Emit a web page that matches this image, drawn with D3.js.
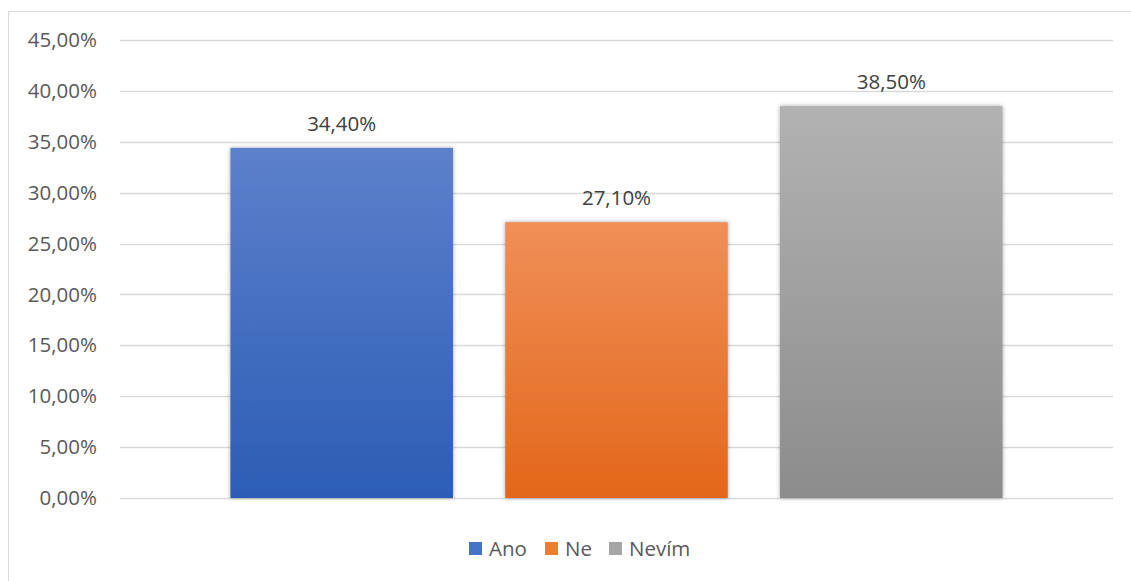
<!DOCTYPE html>
<html><head><meta charset="utf-8">
<script src="https://cdn.jsdelivr.net/npm/d3@7"></script>
<style>html,body{margin:0;padding:0;background:#fff;} svg{display:block;font-family:"Open Sans","Noto Sans",sans-serif;}</style>
</head><body>
<svg id="c" width="1131" height="581"></svg>
<script>
const categories = ["Ano", "Ne", "Nevím"];
const values = [0.344, 0.271, 0.385];
const yTicks = [0, 0.05, 0.10, 0.15, 0.20, 0.25, 0.30, 0.35, 0.40, 0.45];
const colorsTop = ["#5d80cb", "#f08f58", "#b2b2b2"];
const colorsBottom = ["#2c5db5", "#e3671a", "#8c8c8c"];
const legendColors = ["#4472c4", "#ed7d31", "#a5a5a5"];

const svg = d3.select("#c");
const fmt = v => (v*100).toFixed(2).replace(".", ",") + "%";

// frame
svg.append("rect").attr("x", 8.5).attr("y", 11.5).attr("width", 1140).attr("height", 600)
  .attr("fill", "none").attr("stroke", "#d9d9d9").attr("stroke-width", 1);

const plotL = 120, plotR = 1113, plotT = 40, plotB = 498;
const y = d3.scaleLinear().domain([0, 0.45]).range([plotB, plotT]);
const xOuter = d3.scaleBand().domain(["g"]).range([plotL, plotR]).paddingOuter(0.143);
const x = d3.scaleBand().domain(categories)
  .range([xOuter("g"), xOuter("g") + xOuter.bandwidth()]).paddingInner(0.19).paddingOuter(0);

const defs = svg.append("defs");
categories.forEach((c, i) => {
  const g = defs.append("linearGradient").attr("id", "g" + i).attr("x1", 0).attr("y1", 0).attr("x2", 0).attr("y2", 1);
  g.append("stop").attr("offset", "0%").attr("stop-color", colorsTop[i]);
  g.append("stop").attr("offset", "100%").attr("stop-color", colorsBottom[i]);
});
const f = defs.append("filter").attr("id", "sh").attr("x", "-10%").attr("y", "-10%").attr("width", "120%").attr("height", "120%");
f.append("feDropShadow").attr("dx", 0).attr("dy", 0).attr("stdDeviation", 2).attr("flood-color", "#000").attr("flood-opacity", 0.35);

// gridlines
svg.append("g").selectAll("line").data(yTicks).join("line")
  .attr("x1", plotL).attr("x2", plotR)
  .attr("y1", d => Math.round(y(d)) + 0.5).attr("y2", d => Math.round(y(d)) + 0.5)
  .attr("stroke", "#d9d9d9").attr("stroke-width", 1.5);

// y axis labels
const yAxis = d3.axisLeft(y).tickValues(yTicks).tickFormat(fmt).tickSize(0).tickPadding(0);
const ya = svg.append("g").attr("transform", `translate(97,0)`).call(yAxis);
ya.select(".domain").remove();
ya.selectAll("text").attr("font-size", 20.5).attr("fill", "#595959")
  .attr("font-family", '"Open Sans","Noto Sans",sans-serif');

// bars
svg.append("g").selectAll("rect").data(values).join("rect")
  .attr("x", (d, i) => x(categories[i])).attr("width", x.bandwidth())
  .attr("y", d => y(d)).attr("height", d => y(0) - y(d))
  .attr("fill", (d, i) => `url(#g${i})`).attr("filter", "url(#sh)");

// data labels
svg.append("g").selectAll("text").data(values).join("text")
  .attr("x", (d, i) => x(categories[i]) + x.bandwidth()/2)
  .attr("y", d => y(d) - 17)
  .attr("text-anchor", "middle").attr("font-size", 20.5).attr("fill", "#404040")
  .text(fmt);

// legend
const legendX = [469, 545, 609];
const lg = svg.append("g");
categories.forEach((c, i) => {
  lg.append("rect").attr("x", legendX[i]).attr("y", 542).attr("width", 13).attr("height", 13).attr("fill", legendColors[i]);
  lg.append("text").attr("x", legendX[i] + 20).attr("y", 556).attr("font-size", 20.5).attr("fill", "#595959").text(c);
});
</script>
</body></html>
